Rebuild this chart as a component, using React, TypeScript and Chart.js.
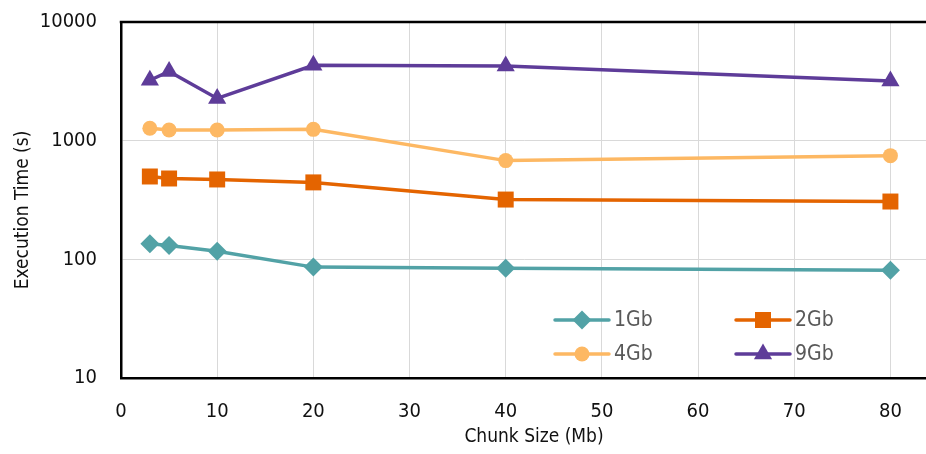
import React, { useEffect, useRef } from "react";
import { Chart, registerables } from "chart.js";

Chart.register(...registerables);

const chunkSizes = [3, 5, 10, 20, 40, 80];
const gb1 = [135, 131, 117, 86, 84, 81];
const gb2 = [499, 480, 471, 445, 319, 307];
const gb4 = [1271, 1229, 1229, 1246, 679, 748];
const gb9 = [3228, 3828, 2270, 4315, 4260, 3190];
const seriesNames = ["1Gb", "2Gb", "4Gb", "9Gb"];
const yTicks = [10, 100, 1000, 10000];
const xTickValues = [0, 10, 20, 30, 40, 50, 60, 70, 80];
const xTitle = "Chunk Size (Mb)";
const yTitle = "Execution Time (s)";

const FONT = "'DejaVu Sans Condensed', 'Liberation Sans Narrow', sans-serif";

const colors = ["#52a2a6", "#e46400", "#fdb863", "#5e3c99"];
const pointStyles = ["rectRot", "rect", "circle", "triangle"];
const pointRadii = [9.5, 11.3, 7.5, 10.5];

function drawMarker(ctx: CanvasRenderingContext2D, style: string, r: number, x: number, y: number) {
  ctx.beginPath();
  if (style === "rectRot") {
    ctx.moveTo(x - r, y);
    ctx.lineTo(x, y - r);
    ctx.lineTo(x + r, y);
    ctx.lineTo(x, y + r);
    ctx.closePath();
  } else if (style === "rect") {
    const s = Math.SQRT1_2 * r;
    ctx.rect(x - s, y - s, 2 * s, 2 * s);
  } else if (style === "circle") {
    ctx.arc(x, y, r, 0, Math.PI * 2);
  } else if (style === "triangle") {
    let rad = 0;
    ctx.moveTo(x + Math.sin(rad) * r, y - Math.cos(rad) * r);
    rad += (2 * Math.PI) / 3;
    ctx.lineTo(x + Math.sin(rad) * r, y - Math.cos(rad) * r);
    rad += (2 * Math.PI) / 3;
    ctx.lineTo(x + Math.sin(rad) * r, y - Math.cos(rad) * r);
    ctx.closePath();
  }
  ctx.fill();
}

const frameAndLegend = {
  id: "frameAndLegend",
  afterDraw(chart: any) {
    const { ctx, chartArea } = chart;
    ctx.save();
    ctx.strokeStyle = "#000";
    ctx.lineWidth = 2.5;
    ctx.beginPath();
    ctx.moveTo(chartArea.left - 1.25, chartArea.top);
    ctx.lineTo(chartArea.right, chartArea.top);
    ctx.stroke();

    // axis titles
    ctx.fillStyle = "#111";
    ctx.font = `19px ${FONT}`;
    ctx.textAlign = "center";
    ctx.textBaseline = "middle";
    ctx.fillText(xTitle, 534, 437);
    ctx.save();
    ctx.translate(23, 210);
    ctx.rotate(-Math.PI / 2);
    ctx.fillText(yTitle, 0, 0);
    ctx.restore();

    const cols = [555, 736];
    const rows = [320, 354];
    chart.data.datasets.forEach((ds: any, i: number) => {
      const x0 = cols[i % 2];
      const y = rows[Math.floor(i / 2)];
      ctx.strokeStyle = ds.borderColor;
      ctx.lineWidth = ds.borderWidth;
      ctx.lineCap = "round";
      ctx.beginPath();
      ctx.moveTo(x0, y);
      ctx.lineTo(x0 + 54, y);
      ctx.stroke();
      ctx.fillStyle = ds.backgroundColor;
      drawMarker(ctx, ds.pointStyle, ds.pointRadius, x0 + 27, y);
      ctx.fillStyle = "#595959";
      ctx.font = `21px ${FONT}`;
      ctx.textBaseline = "middle";
      ctx.textAlign = "left";
      ctx.fillText(ds.label, x0 + 59, y + 1);
    });
    ctx.restore();
  },
};

export default function App() {
  const canvasRef = useRef<HTMLCanvasElement | null>(null);

  useEffect(() => {
    const series = [gb1, gb2, gb4, gb9];
    const datasets = series.map((vals, i) => ({
      label: seriesNames[i],
      data: vals.map((v, j) => ({ x: chunkSizes[j], y: v })),
      borderColor: colors[i],
      backgroundColor: colors[i],
      pointBackgroundColor: colors[i],
      pointBorderColor: colors[i],
      pointBorderWidth: 0,
      borderWidth: 3.5,
      pointStyle: pointStyles[i],
      pointRadius: pointRadii[i],
      tension: 0,
      clip: false as any,
    }));

    const chart = new Chart(canvasRef.current as HTMLCanvasElement, {
      type: "line",
      data: { datasets },
      plugins: [frameAndLegend],
      options: {
        animation: false,
        responsive: true,
        maintainAspectRatio: false,
        layout: { autoPadding: false, padding: { top: 22, right: 0, left: 0, bottom: 0 } },
        plugins: {
          legend: { display: false },
          tooltip: { enabled: false },
        },
        scales: {
          x: {
            type: "linear",
            min: 0,
            max: 83.7,
            afterBuildTicks: (scale: any) => {
              scale.ticks = xTickValues.map((v) => ({ value: v }));
            },
            afterFit: (scale: any) => {
              scale.height = 76;
              scale.paddingLeft = 0;
              scale.paddingRight = 0;
            },
            ticks: {
              color: "#111",
              padding: 22,
              font: { family: FONT, size: 20 },
              maxRotation: 0,
            },
            grid: { color: "#d9d9d9", lineWidth: 1, drawTicks: false },
            border: { color: "#000", width: 2.5 },
            title: { display: false },
          },
          y: {
            type: "logarithmic",
            min: 10,
            max: 10000,
            afterBuildTicks: (scale: any) => {
              scale.ticks = yTicks.map((v) => ({ value: v }));
            },
            afterFit: (scale: any) => {
              scale.width = 121;
              scale.paddingTop = 0;
              scale.paddingBottom = 0;
            },
            ticks: {
              color: "#111",
              padding: 24,
              font: { family: FONT, size: 20 },
              callback: (v: any) => String(v),
            },
            grid: { color: "#d9d9d9", lineWidth: 1, drawTicks: false },
            border: { color: "#000", width: 2.5 },
            title: { display: false },
          },
        },
      },
    });
    return () => chart.destroy();
  }, []);

  return (
    <div style={{ position: "fixed", left: 0, top: 0, width: 926, height: 454, background: "#fff" }}>
      <canvas ref={canvasRef} />
    </div>
  );
}
